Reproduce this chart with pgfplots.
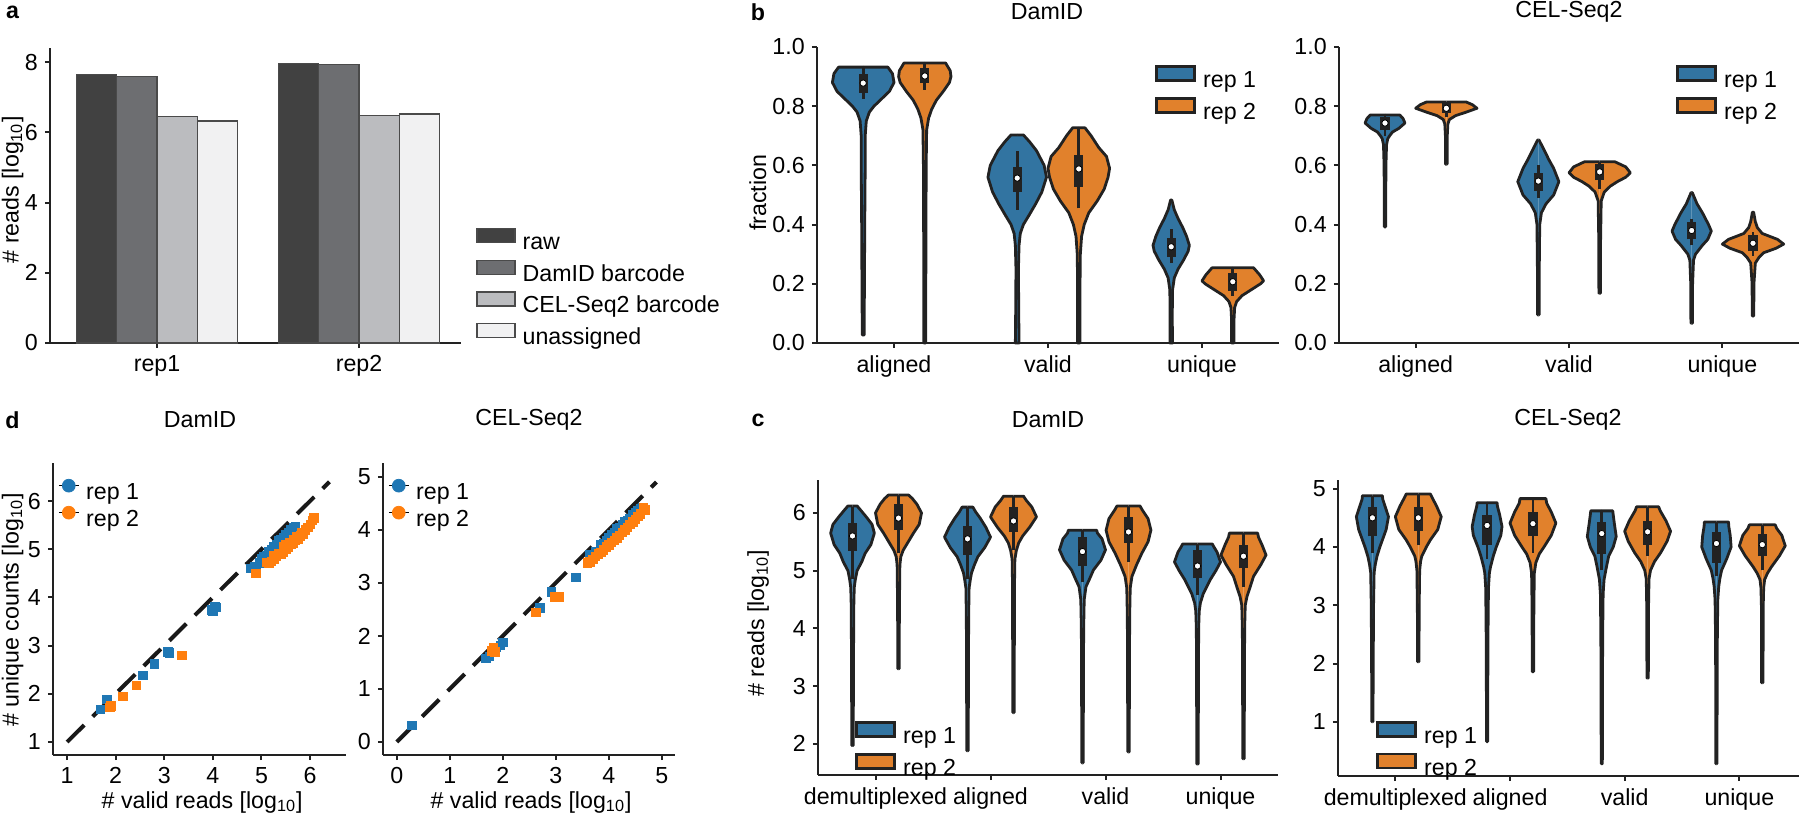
\documentclass[border=0pt]{standalone}
\usepackage{pgfplots}
\pgfplotsset{compat=1.18}
\usepackage{pgfplotstable}
\usepackage{fontspec}
\setmainfont{Liberation Sans}
\newcommand\fsz{\fontsize{11.6}{13.9}\selectfont}

\definecolor{craw}{HTML}{414141}
\definecolor{cdam}{HTML}{6D6E71}
\definecolor{ccel}{HTML}{BBBCBF}
\definecolor{cuna}{HTML}{F1F1F2}
\definecolor{cedge}{HTML}{4A4A4A}
\definecolor{vblue}{HTML}{3274A1}
\definecolor{vorange}{HTML}{E1812C}
\definecolor{vline}{HTML}{222222}
\definecolor{sblue}{HTML}{1F77B4}
\definecolor{sorange}{HTML}{FF7F0E}
\definecolor{axcol}{HTML}{222222}

% ---------- panel a ----------
\pgfplotstableread{
x raw dam cel una
0 7.65 7.60 6.45 6.32
1 7.97 7.93 6.47 6.52
}\tabars

% violin half-width profiles: y, half width (w = 0 rows close the outline on the centre line)
% ---------- panel b, DamID ----------
\pgfplotstableread{
y w
0.027 0
0.027 0.006
0.2 0.008
0.4 0.010
0.6 0.013
0.7 0.013
0.75 0.02
0.78 0.04
0.80 0.07
0.82 0.11
0.85 0.17
0.88 0.20
0.91 0.19
0.932 0.16
0.932 0
}\tbDAa
\pgfplotstableread{
y w
0.0 0
0.0 0.006
0.3 0.007
0.6 0.009
0.72 0.012
0.76 0.025
0.79 0.045
0.82 0.075
0.85 0.12
0.88 0.16
0.90 0.17
0.92 0.165
0.946 0.135
0.946 0
}\tbDAb
\pgfplotstableread{
y w
0.0 0
0.0 0.012
0.1 0.010
0.25 0.008
0.33 0.012
0.37 0.02
0.40 0.04
0.43 0.075
0.47 0.12
0.51 0.16
0.56 0.19
0.60 0.175
0.65 0.125
0.68 0.08
0.703 0.04
0.703 0
}\tbDVa
\pgfplotstableread{
y w
0.0 0
0.0 0.008
0.2 0.008
0.3 0.010
0.36 0.018
0.40 0.035
0.44 0.065
0.48 0.12
0.52 0.165
0.56 0.19
0.59 0.20
0.63 0.18
0.66 0.13
0.70 0.08
0.727 0.04
0.727 0
}\tbDVb
\pgfplotstableread{
y w
0.0 0
0.0 0.008
0.1 0.007
0.18 0.009
0.22 0.02
0.25 0.045
0.28 0.08
0.31 0.11
0.33 0.118
0.36 0.10
0.39 0.075
0.42 0.045
0.45 0.02
0.483 0.004
0.483 0
}\tbDUa
\pgfplotstableread{
y w
0.0 0
0.0 0.008
0.08 0.008
0.12 0.012
0.14 0.025
0.16 0.06
0.18 0.12
0.20 0.18
0.21 0.20
0.23 0.175
0.245 0.15
0.254 0.135
0.254 0
}\tbDUb

% ---------- panel b, CEL-Seq2 ----------
\pgfplotstableread{
y w
0.392 0
0.392 0.004
0.5 0.005
0.6 0.006
0.67 0.010
0.69 0.018
0.70 0.03
0.713 0.05
0.725 0.09
0.743 0.13
0.758 0.118
0.77 0.097
0.77 0
}\tbCAa
\pgfplotstableread{
y w
0.604 0
0.604 0.005
0.7 0.006
0.74 0.010
0.755 0.02
0.768 0.06
0.78 0.13
0.793 0.20
0.805 0.17
0.814 0.13
0.814 0
}\tbCAb
\pgfplotstableread{
y w
0.095 0
0.095 0.005
0.25 0.006
0.4 0.009
0.44 0.02
0.47 0.05
0.50 0.10
0.545 0.134
0.59 0.10
0.62 0.068
0.66 0.03
0.686 0.004
0.686 0
}\tbCVa
\pgfplotstableread{
y w
0.168 0
0.168 0.005
0.35 0.006
0.48 0.010
0.51 0.03
0.53 0.07
0.545 0.115
0.56 0.17
0.575 0.20
0.595 0.17
0.612 0.10
0.612 0
}\tbCVb
\pgfplotstableread{
y w
0.067 0
0.067 0.005
0.2 0.006
0.28 0.012
0.30 0.025
0.33 0.07
0.35 0.105
0.378 0.128
0.40 0.11
0.44 0.07
0.47 0.035
0.508 0.004
0.508 0
}\tbCUa
\pgfplotstableread{
y w
0.091 0
0.091 0.005
0.2 0.006
0.27 0.015
0.29 0.04
0.305 0.07
0.32 0.15
0.334 0.20
0.35 0.16
0.358 0.12
0.37 0.06
0.39 0.028
0.41 0.015
0.442 0.004
0.442 0
}\tbCUb

% ---------- panel c, DamID ----------
\pgfplotstableread{
y w
1.97 0
1.97 0.006
3.0 0.008
4.0 0.010
4.5 0.012
4.72 0.016
4.85 0.025
5.0 0.04
5.15 0.08
5.3 0.11
5.45 0.16
5.65 0.19
5.8 0.17
5.93 0.12
6.05 0.07
6.12 0.04
6.12 0
}\tcDDa
\pgfplotstableread{
y w
3.3 0
3.3 0.006
4.0 0.007
4.8 0.010
5.1 0.012
5.24 0.02
5.35 0.04
5.45 0.07
5.55 0.10
5.65 0.13
5.8 0.18
6.0 0.20
6.15 0.16
6.25 0.12
6.31 0.087
6.31 0
}\tcDDb
\pgfplotstableread{
y w
1.88 0
1.88 0.006
3.0 0.008
4.2 0.010
4.7 0.014
4.85 0.025
4.96 0.035
5.1 0.06
5.24 0.09
5.4 0.15
5.58 0.20
5.75 0.16
5.91 0.11
6.02 0.07
6.1 0.047
6.1 0
}\tcDAa
\pgfplotstableread{
y w
2.54 0
2.54 0.006
3.5 0.007
4.8 0.009
5.2 0.012
5.35 0.025
5.48 0.045
5.6 0.08
5.75 0.14
5.93 0.20
6.1 0.16
6.22 0.11
6.29 0.087
6.29 0
}\tcDAb
\pgfplotstableread{
y w
1.67 0
1.67 0.006
3.0 0.008
4.0 0.010
4.5 0.015
4.72 0.03
4.85 0.06
5.01 0.095
5.18 0.16
5.36 0.20
5.55 0.17
5.65 0.13
5.7 0.123
5.7 0
}\tcDVa
\pgfplotstableread{
y w
1.86 0
1.86 0.006
3.0 0.008
4.2 0.010
4.7 0.015
4.9 0.03
5.1 0.07
5.3 0.116
5.5 0.17
5.7 0.195
5.9 0.17
6.05 0.12
6.12 0.10
6.12 0
}\tcDVb
\pgfplotstableread{
y w
1.65 0
1.65 0.006
3.0 0.008
4.0 0.010
4.3 0.015
4.44 0.025
4.6 0.05
4.84 0.11
5.0 0.16
5.15 0.20
5.32 0.17
5.42 0.14
5.46 0.13
5.46 0
}\tcDUa
\pgfplotstableread{
y w
1.74 0
1.74 0.006
3.0 0.008
4.0 0.010
4.4 0.015
4.55 0.03
4.7 0.055
4.9 0.087
5.1 0.15
5.27 0.196
5.45 0.16
5.58 0.13
5.65 0.123
5.65 0
}\tcDUb

% ---------- panel c, CEL-Seq2 ----------
\pgfplotstableread{
y w
1.0 0
1.0 0.005
2.0 0.007
3.0 0.010
3.56 0.015
3.7 0.025
3.84 0.04
4.0 0.065
4.12 0.087
4.3 0.12
4.52 0.14
4.7 0.11
4.82 0.09
4.88 0.087
4.88 0
}\tcCDa
\pgfplotstableread{
y w
2.03 0
2.03 0.006
3.0 0.008
3.6 0.012
3.75 0.02
3.84 0.03
4.0 0.07
4.12 0.105
4.3 0.17
4.52 0.20
4.7 0.16
4.85 0.12
4.91 0.105
4.91 0
}\tcCDb
\pgfplotstableread{
y w
0.66 0
0.66 0.005
1.5 0.006
2.5 0.008
3.3 0.012
3.55 0.02
3.66 0.03
3.85 0.055
4.0 0.08
4.2 0.12
4.35 0.13
4.55 0.11
4.7 0.09
4.76 0.087
4.76 0
}\tcCAa
\pgfplotstableread{
y w
1.86 0
1.86 0.006
3.0 0.008
3.55 0.012
3.73 0.025
3.88 0.055
4.0 0.096
4.2 0.16
4.41 0.20
4.6 0.16
4.75 0.12
4.83 0.113
4.83 0
}\tcCAb
\pgfplotstableread{
y w
0.28 0
0.28 0.005
1.5 0.006
2.5 0.008
3.2 0.012
3.44 0.02
3.65 0.04
3.84 0.06
4.0 0.10
4.18 0.126
4.4 0.11
4.55 0.10
4.62 0.096
4.62 0
}\tcCVa
\pgfplotstableread{
y w
1.75 0
1.75 0.006
3.0 0.008
3.45 0.012
3.6 0.025
3.75 0.06
3.9 0.113
4.1 0.17
4.27 0.20
4.45 0.16
4.62 0.11
4.69 0.096
4.69 0
}\tcCVb
\pgfplotstableread{
y w
0.28 0
0.28 0.005
1.5 0.006
2.5 0.008
3.1 0.012
3.32 0.02
3.46 0.03
3.6 0.045
3.8 0.09
4.0 0.128
4.2 0.12
4.35 0.108
4.43 0.105
4.43 0
}\tcCUa
\pgfplotstableread{
y w
1.67 0
1.67 0.006
3.0 0.008
3.3 0.012
3.44 0.02
3.55 0.045
3.66 0.08
3.85 0.15
4.02 0.20
4.2 0.17
4.32 0.125
4.38 0.113
4.38 0
}\tcCUb

% ---------- panel d ----------
\pgfplotstableread{
x y
1.68 1.68
1.82 1.89
2.56 2.39
2.80 2.62
3.07 2.87
3.10 2.85
3.97 3.74
4.00 3.72
4.04 3.82
4.07 3.80
4.78 4.60
4.85 4.65
4.90 4.62
4.95 4.72
5.00 4.80
5.00 4.72
5.05 4.85
5.08 4.78
5.10 4.88
5.15 4.95
5.15 4.85
5.20 5.00
5.20 4.92
5.25 5.05
5.28 4.98
5.30 5.10
5.35 5.18
5.35 5.08
5.40 5.20
5.42 5.12
5.45 5.25
5.48 5.18
5.50 5.30
5.55 5.35
5.55 5.25
5.60 5.40
5.62 5.32
5.65 5.45
5.70 5.48
}\tdDa
\pgfplotstableread{
x y
1.90 1.75
1.88 1.72
2.15 1.95
2.42 2.18
3.36 2.80
4.88 4.50
5.10 4.73
5.15 4.72
5.20 4.75
5.25 4.80
5.25 4.88
5.30 4.85
5.35 4.92
5.40 4.90
5.45 4.95
5.45 5.05
5.50 5.00
5.50 5.10
5.55 5.05
5.58 5.15
5.60 5.10
5.65 5.12
5.65 5.20
5.70 5.18
5.72 5.26
5.75 5.22
5.80 5.28
5.82 5.34
5.85 5.32
5.90 5.40
5.95 5.45
6.00 5.52
6.05 5.60
6.08 5.65
}\tdDb
\pgfplotstableread{
x y
0.28 0.32
1.68 1.58
1.75 1.62
1.88 1.78
1.95 1.82
2.00 1.88
2.70 2.53
2.92 2.83
3.38 3.11
3.64 3.53
3.75 3.60
3.85 3.72
3.90 3.75
3.95 3.80
4.00 3.85
4.05 3.92
4.10 3.95
4.15 4.02
4.20 4.05
4.25 4.10
4.30 4.15
4.35 4.18
4.40 4.22
4.45 4.28
4.50 4.32
4.55 4.36
4.60 4.40
4.64 4.43
}\tdCa
\pgfplotstableread{
x y
1.78 1.72
1.82 1.78
1.85 1.70
2.62 2.45
2.98 2.74
3.07 2.74
3.60 3.38
3.64 3.40
3.70 3.45
3.75 3.50
3.80 3.55
3.85 3.58
3.90 3.62
3.95 3.68
4.00 3.72
4.05 3.76
4.10 3.80
4.15 3.85
4.20 3.90
4.25 3.95
4.30 4.00
4.35 4.05
4.40 4.10
4.45 4.15
4.50 4.20
4.55 4.25
4.60 4.30
4.68 4.38
4.65 4.42
}\tdCb

% violin: #1 centre, #2 table, #3 colour, #4 whisker low, #5 q1, #6 median, #7 q3, #8 whisker high
\newcommand\violin[8]{%
  \addplot[fill=#3, draw=vline, line width=1.4pt, line join=round, forget plot] table[x expr={#1+\thisrow{w}}, y=y] {#2};
  \addplot[fill=#3, draw=vline, line width=1.4pt, line join=round, forget plot] table[x expr={#1-\thisrow{w}}, y=y] {#2};
  \addplot[vline, line width=1.4pt, forget plot] coordinates {(#1,#4) (#1,#8)};
  \addplot[vline, line width=4.6pt, forget plot] coordinates {(#1,#5) (#1,#7)};
  \addplot[only marks, mark=*, mark size=1.6pt, mark options={draw=none, fill=white}, forget plot] coordinates {(#1,#6)};
}

\pgfplotsset{
  common/.style={
    scale only axis, anchor=south west, clip=false,
    axis lines=left, axis line style={-, line width=1pt, draw=axcol},
    tick align=outside, major tick length=2.6pt,
    tick style={line width=1pt, draw=axcol},
    tick label style={font=\fsz}, label style={font=\fsz},
    /pgf/number format/assume math mode=true,
    legend cell align=left,
  },
  legbox/.style={legend style={draw=none, fill=none, anchor=north west,
    inner xsep=0pt, inner ysep=0pt, row sep=#1, font=\fsz,
    nodes={inner xsep=3.5pt, inner ysep=0pt, text height=8.4pt, text depth=2.8pt}}},
  vleg/.style={legend image code/.code={\draw[fill=#1, draw=vline, line width=1.4pt] (0pt,0.7pt) rectangle (19pt,7.7pt);}},
  bleg/.style={legend image code/.code={\draw[fill=#1, draw=cedge, line width=0.6pt] (0pt,0.7pt) rectangle (19pt,7.7pt);}},
  sleg/.style={legend image code/.code={\path (0pt,4.2pt) -- (10pt,4.2pt); \fill[#1] (5pt,4.2pt) circle (3.2pt);}},
}

\begin{document}
\begin{tikzpicture}[font=\fsz]
\useasboundingbox (0,0) rectangle (900pt,409pt);

% ================= a =================
\begin{axis}[common, at={(25pt,237.5pt)}, width=205.5pt, height=147.5pt,
  xmin=-0.53, xmax=1.505, ymin=0, ymax=8.4,
  xtick={0,1}, xticklabels={rep1,rep2}, ytick={0,2,4,6,8},
  ylabel={\# reads [log\textsubscript{10}]},
  ylabel style={at={(axis description cs:-0.091,0.519)}, anchor=center},
  legbox=2.3pt, legend style={at={(axis description cs:1.0365,0.392)}}]
\addplot[ybar, bar width=0.2, bar shift=-0.3, fill=craw, draw=cedge, line width=0.6pt, forget plot] table[x=x, y=raw] {\tabars};
\addplot[ybar, bar width=0.2, bar shift=-0.1, fill=cdam, draw=cedge, line width=0.6pt, forget plot] table[x=x, y=dam] {\tabars};
\addplot[ybar, bar width=0.2, bar shift=0.1, fill=ccel, draw=cedge, line width=0.6pt, forget plot] table[x=x, y=cel] {\tabars};
\addplot[ybar, bar width=0.2, bar shift=0.3, fill=cuna, draw=cedge, line width=0.6pt, forget plot] table[x=x, y=una] {\tabars};
\addlegendimage{bleg=craw}
\addlegendentry{raw}
\addlegendimage{bleg=cdam}
\addlegendentry{DamID barcode}
\addlegendimage{bleg=ccel}
\addlegendentry{CEL-Seq2 barcode}
\addlegendimage{bleg=cuna}
\addlegendentry{unassigned}
\end{axis}

% ================= b DamID =================
\begin{axis}[common, at={(408.5pt,237.5pt)}, width=231pt, height=148pt,
  xmin=-0.5, xmax=2.5, ymin=0, ymax=1,
  xtick={0,1,2}, xticklabels={aligned,valid,unique},
  ytick={0,0.2,0.4,0.6,0.8,1}, yticklabels={0.0,0.2,0.4,0.6,0.8,1.0},
  ylabel={fraction},
  ylabel style={at={(axis description cs:-0.128,0.507)}, anchor=center},
  legbox=1.8pt, legend style={at={(axis description cs:0.7316,0.94)}}]
\violin{-0.2}{\tbDAa}{vblue}{0.825}{0.845}{0.878}{0.91}{0.932}
\violin{0.2}{\tbDAb}{vorange}{0.855}{0.878}{0.902}{0.928}{0.946}
\violin{0.8}{\tbDVa}{vblue}{0.45}{0.51}{0.557}{0.595}{0.647}
\violin{1.2}{\tbDVb}{vorange}{0.455}{0.527}{0.588}{0.635}{0.727}
\violin{1.8}{\tbDUa}{vblue}{0.27}{0.29}{0.325}{0.354}{0.386}
\violin{2.2}{\tbDUb}{vorange}{0.16}{0.176}{0.207}{0.236}{0.254}
\addlegendimage{vleg=vblue}
\addlegendentry{rep 1}
\addlegendimage{vleg=vorange}
\addlegendentry{rep 2}
\end{axis}

% ================= b CEL-Seq2 =================
\begin{axis}[common, at={(669.5pt,237.5pt)}, width=230pt, height=148pt,
  xmin=-0.5, xmax=2.5, ymin=0, ymax=1,
  xtick={0,1,2}, xticklabels={aligned,valid,unique},
  ytick={0,0.2,0.4,0.6,0.8,1}, yticklabels={0.0,0.2,0.4,0.6,0.8,1.0},
  legbox=1.8pt, legend style={at={(axis description cs:0.7326,0.94)}}]
\violin{-0.2}{\tbCAa}{vblue}{0.70}{0.72}{0.743}{0.764}{0.77}
\violin{0.2}{\tbCAb}{vorange}{0.765}{0.777}{0.793}{0.81}{0.814}
\violin{0.8}{\tbCVa}{vblue}{0.49}{0.514}{0.547}{0.574}{0.60}
\violin{1.2}{\tbCVb}{vorange}{0.52}{0.55}{0.578}{0.605}{0.612}
\violin{1.8}{\tbCUa}{vblue}{0.33}{0.35}{0.38}{0.41}{0.42}
\violin{2.2}{\tbCUb}{vorange}{0.295}{0.31}{0.337}{0.365}{0.375}
\addlegendimage{vleg=vblue}
\addlegendentry{rep 1}
\addlegendimage{vleg=vorange}
\addlegendentry{rep 2}
\end{axis}

% ================= d DamID =================
\begin{axis}[common, at={(26.5pt,31.5pt)}, width=146.5pt, height=146pt,
  xmin=0.71, xmax=6.74, ymin=0.73, ymax=6.79,
  xtick={1,2,3,4,5,6}, ytick={1,2,3,4,5,6},
  xlabel={\# valid reads [log\textsubscript{10}]},
  ylabel={\# unique counts [log\textsubscript{10}]},
  xlabel style={at={(axis description cs:0.509,-0.161)}, anchor=center},
  ylabel style={at={(axis description cs:-0.138,0.497)}, anchor=center},
  legbox=0.3pt, legend style={at={(axis description cs:0.017,0.947)}}]
\addplot[black!90, line width=2pt, dash pattern=on 12pt off 6pt, forget plot] coordinates {(1,1) (6.4,6.4)};
\addplot[only marks, color=sblue, mark=square*, mark size=2.1pt, mark options={fill=sblue, draw=sblue, line width=0.3pt, rounded corners=0.8pt}, forget plot] table[x=x, y=y] {\tdDa};
\addplot[only marks, color=sorange, mark=square*, mark size=2.1pt, mark options={fill=sorange, draw=sorange, line width=0.3pt, rounded corners=0.8pt}, forget plot] table[x=x, y=y] {\tdDb};
\addlegendimage{sleg=sblue}
\addlegendentry{rep 1}
\addlegendimage{sleg=sorange}
\addlegendentry{rep 2}
\end{axis}

% ================= d CEL-Seq2 =================
\begin{axis}[common, at={(191.5pt,31.5pt)}, width=146pt, height=146pt,
  xmin=-0.26, xmax=5.25, ymin=-0.245, ymax=5.26,
  xtick={0,1,2,3,4,5}, ytick={0,1,2,3,4,5},
  xlabel={\# valid reads [log\textsubscript{10}]},
  xlabel style={at={(axis description cs:0.507,-0.161)}, anchor=center},
  legbox=0.3pt, legend style={at={(axis description cs:0.017,0.947)}}]
\addplot[black!90, line width=2pt, dash pattern=on 12pt off 6pt, forget plot] coordinates {(0,0) (4.9,4.9)};
\addplot[only marks, color=sblue, mark=square*, mark size=2.1pt, mark options={fill=sblue, draw=sblue, line width=0.3pt, rounded corners=0.8pt}, forget plot] table[x=x, y=y] {\tdCa};
\addplot[only marks, color=sorange, mark=square*, mark size=2.1pt, mark options={fill=sorange, draw=sorange, line width=0.3pt, rounded corners=0.8pt}, forget plot] table[x=x, y=y] {\tdCb};
\addlegendimage{sleg=sblue}
\addlegendentry{rep 1}
\addlegendimage{sleg=sorange}
\addlegendentry{rep 2}
\end{axis}

% ================= c DamID =================
\begin{axis}[common, at={(409pt,21.5pt)}, width=230pt, height=147.5pt,
  xmin=-0.5, xmax=3.5, ymin=1.46, ymax=6.57,
  xtick={0,1,2,3}, xticklabels={demultiplexed,aligned,valid,unique},
  ytick={2,3,4,5,6},
  ylabel={\# reads [log\textsubscript{10}]},
  ylabel style={at={(axis description cs:-0.13,0.515)}, anchor=center},
  legbox=1.8pt, legend style={at={(axis description cs:0.0804,0.184)}}]
\violin{-0.2}{\tcDDa}{vblue}{4.85}{5.34}{5.6}{5.82}{6.1}
\violin{0.2}{\tcDDb}{vorange}{5.3}{5.7}{5.91}{6.15}{6.31}
\violin{0.8}{\tcDAa}{vblue}{4.85}{5.27}{5.55}{5.78}{6.1}
\violin{1.2}{\tcDAb}{vorange}{5.35}{5.67}{5.86}{6.1}{6.29}
\violin{1.8}{\tcDVa}{vblue}{4.8}{5.08}{5.33}{5.59}{5.7}
\violin{2.2}{\tcDVb}{vorange}{5.15}{5.48}{5.67}{5.93}{6.12}
\violin{2.8}{\tcDUa}{vblue}{4.58}{4.87}{5.08}{5.36}{5.46}
\violin{3.2}{\tcDUb}{vorange}{4.72}{5.04}{5.25}{5.45}{5.65}
\addlegendimage{vleg=vblue}
\addlegendentry{rep 1}
\addlegendimage{vleg=vorange}
\addlegendentry{rep 2}
\end{axis}

% ================= c CEL-Seq2 =================
\begin{axis}[common, at={(669pt,21pt)}, width=230.5pt, height=148pt,
  xmin=-0.5, xmax=3.52, ymin=0.07, ymax=5.15,
  xtick={0,1,2,3}, xticklabels={demultiplexed,aligned,valid,unique},
  ytick={1,2,3,4,5},
  legbox=1.8pt, legend style={at={(axis description cs:0.0824,0.187)}}]
\violin{-0.2}{\tcCDa}{vblue}{3.9}{4.18}{4.5}{4.69}{4.88}
\violin{0.2}{\tcCDb}{vorange}{4.03}{4.28}{4.5}{4.69}{4.91}
\violin{0.8}{\tcCAa}{vblue}{3.8}{4.04}{4.37}{4.55}{4.76}
\violin{1.2}{\tcCAb}{vorange}{3.9}{4.18}{4.4}{4.6}{4.83}
\violin{1.8}{\tcCVa}{vblue}{3.6}{3.88}{4.23}{4.43}{4.62}
\violin{2.2}{\tcCVb}{vorange}{3.85}{4.04}{4.26}{4.45}{4.69}
\violin{2.8}{\tcCUa}{vblue}{3.5}{3.73}{4.06}{4.26}{4.43}
\violin{3.2}{\tcCUb}{vorange}{3.6}{3.84}{4.04}{4.22}{4.38}
\addlegendimage{vleg=vblue}
\addlegendentry{rep 1}
\addlegendimage{vleg=vorange}
\addlegendentry{rep 2}
\end{axis}

% ================= titles and panel letters =================
\node[font=\fsz\bfseries] at (6.25pt,403pt) {a};
\node[font=\fsz\bfseries] at (379pt,403pt) {b};
\node[font=\fsz\bfseries] at (6.25pt,199pt) {d};
\node[font=\fsz\bfseries] at (379pt,199pt) {c};
\node at (523.5pt,403pt) {DamID};
\node at (784.5pt,403pt) {CEL-Seq2};
\node at (100pt,199pt) {DamID};
\node at (264.5pt,199pt) {CEL-Seq2};
\node at (524pt,199pt) {DamID};
\node at (784pt,199pt) {CEL-Seq2};
\end{tikzpicture}
\end{document}
